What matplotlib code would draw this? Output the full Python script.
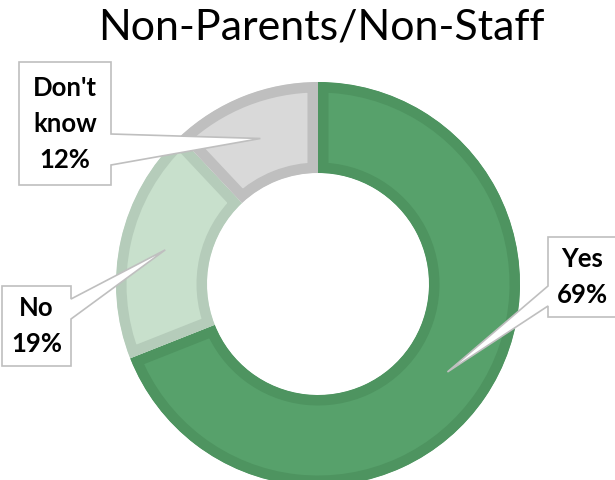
import numpy as np
import matplotlib
matplotlib.use("Agg")
import matplotlib.pyplot as plt
from matplotlib.patches import Polygon

categories = ["Yes", "No", "Don't know"]
values = [69, 19, 12]
fill_colors = ["#57A16B", "#C8E0CC", "#D9D9D9"]
edge_colors = ["#4E9460", "#B5CCBA", "#BFBFBF"]
title = "Non-Parents/Non-Staff"

W, H = 615, 481
fig = plt.figure(figsize=(W / 100, H / 100), dpi=100)
ax = fig.add_axes([0, 0, 1, 1])

cx, cy = 318, H - 285
R, r = 202, 111
wedges, _ = ax.pie(values, startangle=90, counterclock=False, radius=R,
                   center=(cx, cy), colors=fill_colors,
                   wedgeprops=dict(width=R - r), frame=True)
ax.set_xlim(0, W)
ax.set_ylim(0, H)
ax.set_aspect("equal")
ax.axis("off")
for w, ec in zip(wedges, edge_colors):
    w.set_edgecolor(ec)
    w.set_linewidth(21 * 72 / 100)
    w.set_joinstyle("miter")
    w.set_clip_on(True)
    w.set_clip_path(w.get_path(), transform=ax.transData)

# label callouts: box (left, top, right, bottom in image px), side, base y's
boxes = {
    "Yes": ((548, 238, 620, 318), "left", (287, 307)),
    "No": ((2, 287, 71, 367), "right", (300, 320)),
    "Don't know": ((19, 63, 111, 186), "right", (135, 166)),
}
label_names = {"Yes": "Yes", "No": "No", "Don't know": "Don't\nknow"}


def fy(y):
    return H - y


cum = 0
total = sum(values)
for cat, v in zip(categories, values):
    mid = 90 - (cum + v / 2) / total * 360
    cum += v
    rho = (R + r) / 2
    tx = cx + rho * np.cos(np.radians(mid))
    ty = cy + rho * np.sin(np.radians(mid))
    (l, t, rr, b), side, (b1, b2) = boxes[cat]
    if side == "right":
        pts = [(l, fy(t)), (rr, fy(t)), (rr, fy(b1)), (tx, ty), (rr, fy(b2)),
               (rr, fy(b)), (l, fy(b))]
    else:
        pts = [(l, fy(t)), (rr, fy(t)), (rr, fy(b)), (l, fy(b)), (l, fy(b2)),
               (tx, ty), (l, fy(b1))]
    ax.add_patch(Polygon(pts, closed=True, facecolor="white", edgecolor="#BFBFBF",
                         linewidth=1.2, joinstyle="miter", zorder=5))
    ax.text((l + min(rr, W)) / 2 + (1 if side == "left" else 0), fy((t + b) / 2) + 1,
            "%s\n%d%%" % (label_names[cat], v),
            ha="center", va="center", fontsize=18.5, fontweight="bold",
            family=["Lato", "DejaVu Sans"], linespacing=1.6, zorder=6)

ax.text(321, fy(28), title, ha="center", va="center", fontsize=31,
        family=["Lato", "DejaVu Sans"], color="black")

fig.savefig("out.png", dpi=100)
